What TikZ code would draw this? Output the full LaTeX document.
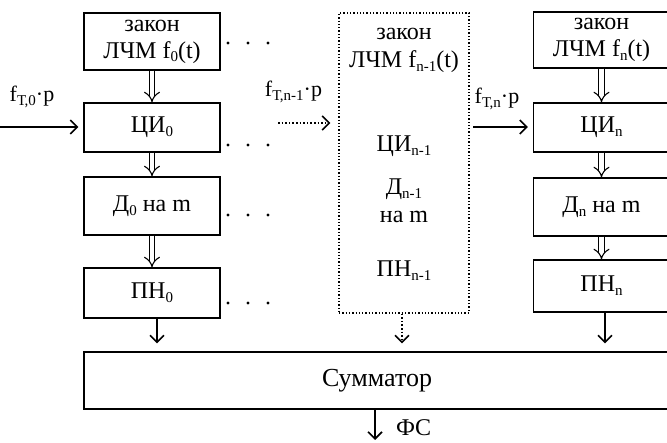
\documentclass[tikz,border=0pt]{standalone}
\usepackage{fontspec}
\setmainfont{Liberation Serif}
\usetikzlibrary{arrows.meta,positioning}
\newcommand\lowidx[1]{\raisebox{-0.35ex}{\fontsize{15}{15}\selectfont #1}}

\begin{document}
\begin{tikzpicture}[x=1pt,y=-1pt,font=\fontsize{24}{27}\selectfont,
   blk/.style={draw,line width=1.2pt,minimum width=136pt,inner sep=0pt,align=center},
   lbl/.style={inner sep=0pt,anchor=base},
   dbl/.style={double,double distance=4.5pt,line width=1.1pt,-{Implies}},
   arr/.style={line width=1.6pt,-{Straight Barb[length=7pt,width=14pt,line width=1.6pt]}}]
  \useasboundingbox (0,0) rectangle (667,443);
  \clip (0,0) rectangle (667,443);
  % first channel
  \node[blk,minimum height=57pt] (law0) at (152,41.5) {закон\\ЛЧМ f\lowidx{0}(t)};
  \node[blk,minimum height=49pt] (ci0) at (152,127.5) {ЦИ\lowidx{0}};
  \node[blk,minimum height=58pt] (d0) at (152,206) {Д\lowidx{0} на m};
  \node[blk,minimum height=50pt] (pn0) at (152,293) {ПН\lowidx{0}};
  % channel n-1, dotted
  \node[draw,dotted,line width=1.3pt,minimum width=130pt,minimum height=300pt,inner sep=0pt] (mid) at (404,163) {};
  \node[lbl] (lawm) at (404,40) {закон};
  \node[lbl] (lchmm) at (404,68) {ЛЧМ f\lowidx{n-1}(t)};
  \node[lbl] (cim) at (404,152) {ЦИ\lowidx{n-1}};
  \node[lbl] (dm) at (404,195) {Д\lowidx{n-1}};
  \node[lbl] (dmm) at (404,223) {на m};
  \node[lbl] (pnm) at (404,277) {ПН\lowidx{n-1}};
  % channel n
  \node[blk,minimum height=56pt] (lawn) at (601.5,40) {закон\\ЛЧМ f\lowidx{n}(t)};
  \node[blk,minimum height=49pt] (cin) at (601.5,127.5) {ЦИ\lowidx{n}};
  \node[blk,minimum height=58pt] (dn) at (601.5,207) {Д\lowidx{n} на m};
  \node[blk,minimum height=52pt] (pnn) at (601.5,286) {ПН\lowidx{n}};
  % adder
  \node[blk,minimum width=586pt,minimum height=57pt,font=\fontsize{26}{30}\selectfont] (sum) at (377,380.5) {Сумматор};

  \draw[dbl] (law0) -- (ci0);
  \draw[dbl] (ci0) -- (d0);
  \draw[dbl] (d0) -- (pn0);
  \draw[dbl] (lawn) -- (cin);
  \draw[dbl] (cin) -- (dn);
  \draw[dbl] (dn) -- (pnn);

  % inputs
  \coordinate (in0) at (0,127);
  \coordinate (inm) at (278,123);
  \coordinate (inn) at (473,127);
  \draw[arr,shorten >=5pt] (in0) -- (in0 -| ci0.west);
  \draw[arr,dotted,shorten >=8pt] (inm) -- (inm -| mid.west);
  \draw[arr,shorten >=5pt] (inn) -- (inn -| cin.west);
  \node[lbl,font=\fontsize{22}{26}\selectfont] (f0) at (32,102) {f\lowidx{Т,0}·p};
  \node[lbl,font=\fontsize{22}{26}\selectfont] (fm) at (293.5,97) {f\lowidx{Т,n-1}·p};
  \node[lbl,font=\fontsize{22}{26}\selectfont] (fn) at (497,104) {f\lowidx{Т,n}·p};

  % to the adder
  \draw[arr,shorten >=8pt] ([xshift=5pt]pn0.south) -- ([xshift=5pt]pn0.south |- sum.north);
  \draw[arr,dotted,shorten >=8pt] ([xshift=-2pt]mid.south) -- ([xshift=-2pt]mid.south |- sum.north);
  \draw[arr,shorten >=8pt] ([xshift=3.5pt]pnn.south) -- ([xshift=3.5pt]pnn.south |- sum.north);
  \coordinate (out) at (375,440);
  \draw[arr] (sum.south -| out) -- (out);
  \node[lbl,anchor=base west] (fs) at (396,436) {ФС};

  % dots between channels
  \foreach \yy in {43,145,215,303}
    \foreach \xx in {228,248,268}
      \fill (\xx,\yy) circle (1.6pt);
\end{tikzpicture}
\end{document}
